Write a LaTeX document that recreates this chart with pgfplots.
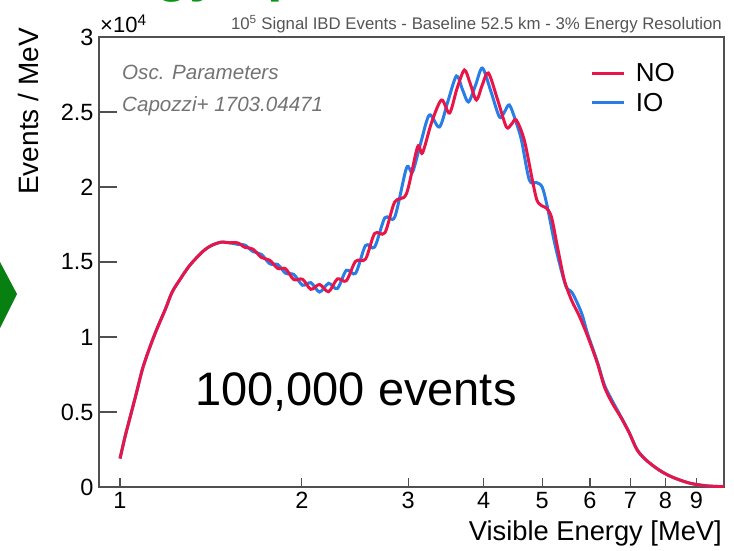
\documentclass[border=0pt]{standalone}
\usepackage{pgfplots}
\pgfplotsset{compat=1.18}
\usepackage{fontspec}
\setmainfont{Liberation Sans}
\definecolor{noRed}{RGB}{232,22,72}
\definecolor{ioBlue}{RGB}{40,125,230}
\definecolor{frameGray}{RGB}{80,80,80}
\definecolor{txtGray}{RGB}{115,115,115}
\definecolor{titleGray}{RGB}{85,85,85}
\definecolor{slideGreen}{RGB}{10,150,20}

\pgfplotstableread{
E y
1.000 0.19
1.020 0.34
1.040 0.47
1.065 0.63
1.090 0.79
1.120 0.93
1.150 1.05
1.190 1.19
1.220 1.30
1.260 1.39
1.300 1.47
1.340 1.53
1.380 1.58
1.420 1.612
1.470 1.632
1.520 1.628
1.565 1.628
1.610 1.598
1.660 1.586
1.715 1.530
1.770 1.512
1.825 1.457
1.880 1.455
1.940 1.383
2.005 1.385
2.070 1.318
2.140 1.350
2.215 1.302
2.290 1.387
2.370 1.375
2.455 1.505
2.550 1.520
2.640 1.690
2.745 1.695
2.850 1.900
2.980 1.955
3.109 2.267
3.168 2.227
3.280 2.430
3.406 2.580
3.512 2.493
3.610 2.650
3.717 2.780
3.800 2.690
3.892 2.580
3.980 2.680
4.073 2.760
4.220 2.580
4.362 2.400
4.450 2.420
4.530 2.447
4.670 2.313
4.816 2.047
4.900 1.913
4.990 1.875
5.080 1.860
5.180 1.800
5.300 1.600
5.440 1.380
5.590 1.247
5.760 1.140
5.940 1.010
6.170 0.827
6.340 0.667
6.530 0.560
6.760 0.460
6.970 0.360
7.180 0.247
7.430 0.180
7.810 0.113
8.200 0.067
8.750 0.027
9.340 0.008
10.00 0.002
}\NOdata

\pgfplotstableread{
E y
1.000 0.19
1.020 0.34
1.040 0.47
1.065 0.63
1.090 0.79
1.120 0.93
1.150 1.05
1.190 1.19
1.220 1.30
1.260 1.39
1.300 1.47
1.340 1.53
1.380 1.58
1.420 1.612
1.470 1.632
1.520 1.628
1.565 1.618
1.610 1.613
1.660 1.570
1.715 1.550
1.770 1.488
1.825 1.483
1.880 1.425
1.940 1.417
2.005 1.345
2.070 1.362
2.140 1.300
2.215 1.358
2.290 1.323
2.370 1.445
2.455 1.425
2.550 1.610
2.640 1.600
2.745 1.795
2.850 1.800
2.981 2.127
3.050 2.100
3.150 2.300
3.253 2.480
3.380 2.400
3.490 2.570
3.606 2.740
3.690 2.650
3.775 2.567
3.880 2.680
3.981 2.793
4.110 2.640
4.248 2.467
4.330 2.500
4.412 2.547
4.520 2.440
4.620 2.313
4.760 2.047
4.890 2.030
5.000 2.000
5.100 1.867
5.230 1.647
5.350 1.480
5.480 1.333
5.610 1.293
5.810 1.160
5.940 1.027
6.170 0.835
6.340 0.680
6.530 0.575
6.760 0.465
6.970 0.362
7.180 0.250
7.430 0.180
7.810 0.113
8.200 0.067
8.750 0.027
9.340 0.008
10.00 0.002
}\IOdata

\begin{document}
\begin{tikzpicture}[x=1pt,y=1pt]
\useasboundingbox (0,0) rectangle (734,550);
\clip (0,0) rectangle (734,550);
% fragment of the slide title and arrow
\node[anchor=base west, text=slideGreen, font=\fontsize{56}{60}\selectfont\bfseries, inner sep=0pt] at (31,559) {Energy spectrum at JUNO (};
\fill[slideGreen!85!black] (0,288) -- (17,256) -- (0,222) -- cycle;
\begin{axis}[
  at={(99pt,63pt)}, anchor=south west,
  scale only axis, width=625pt, height=450pt,
  xmode=log, xmin=0.923, xmax=10, ymin=0, ymax=3,
  xtick={1,2,3,4,5,6,7,8,9}, xticklabels={1,2,3,4,5,6,7,8,9},
  xminorticks=false, yminorticks=false,
  ytick={0,0.5,1,1.5,2,2.5,3}, yticklabels={0,0.5,1,1.5,2,2.5,3},
  tick pos=left, tick align=inside,
  xtick style={/pgfplots/major tick length=9pt},
  ytick style={/pgfplots/major tick length=18pt},
  axis line style={frameGray, line width=1.5pt},
  every tick/.append style={frameGray, line width=1.2pt},
  /pgf/number format/assume math mode=true,
  tick label style={font=\fontsize{23.5}{26}\selectfont, text=black},
  xticklabel style={yshift=-2pt},
  yticklabel style={xshift=-2pt},
  legend style={at={(axis description cs:0.786,0.945)}, anchor=north west,
    draw=none, fill=none, font=\fontsize{26}{28}\selectfont,
    row sep=7pt, inner sep=0pt, nodes={inner sep=1.5pt}},
  legend cell align=left, reverse legend,
  legend image code/.code={\draw[#1, line width=3pt] (0pt,0pt) -- (32pt,0pt); \path (41pt,0pt);},
  clip=true,
]
\addplot[ioBlue, line width=3pt, smooth, tension=0.5] table[x=E, y=y] {\IOdata};
\addlegendentry{IO}
\addplot[noRed, line width=3pt, smooth, tension=0.5] table[x=E, y=y] {\NOdata};
\addlegendentry{NO}
\end{axis}
% annotations
\node[anchor=base west, inner sep=0pt, font=\fontsize{22}{24}\selectfont] at (100,517) {×10\textsuperscript{4}};
\node[anchor=base east, inner sep=0pt, text=titleGray, font=\fontsize{16.8}{18}\selectfont] at (722,520) {10\textsuperscript{5} Signal IBD Events - Baseline 52.5 km - 3\% Energy Resolution};
\node[anchor=base west, inner sep=0pt, text=txtGray, font=\fontsize{20.6}{22}\selectfont\itshape] at (122,470) {Osc. Parameters};
\node[anchor=base west, inner sep=0pt, text=txtGray, font=\fontsize{20.6}{22}\selectfont\itshape] at (122,438) {Capozzi+ 1703.04471};
\node[anchor=base west, inner sep=0pt, font=\fontsize{47}{50}\selectfont] at (195,145) {100,000 events};
\node[anchor=base east, inner sep=0pt, font=\fontsize{27.3}{30}\selectfont] at (722,10) {Visible Energy [MeV]};
\node[rotate=90, anchor=north east, inner sep=0pt, font=\fontsize{28}{30}\selectfont] at (18,522) {Events / MeV};
\end{tikzpicture}
\end{document}
